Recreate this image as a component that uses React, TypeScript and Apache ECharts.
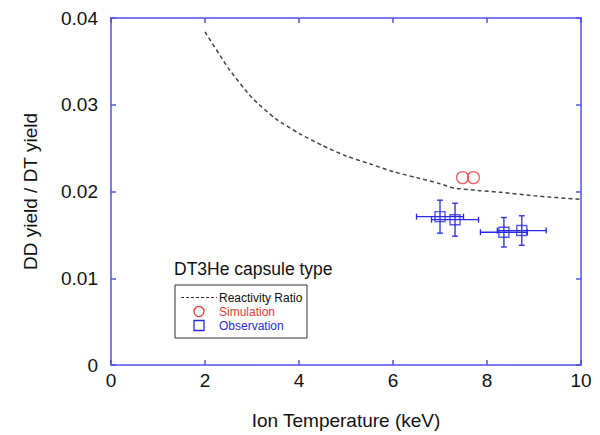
import React, { useEffect, useRef } from 'react';
import * as echarts from 'echarts';

// Reactivity ratio curve (dashed)
const curveX = [2.0, 2.5, 3.0, 3.5, 4.0, 4.5, 5.0, 5.5, 6.0, 6.5, 7.0, 7.3, 7.85, 8.3, 9.0, 10.0];
const curveY = [0.0384, 0.0342, 0.0308, 0.0284, 0.0267, 0.0253, 0.0241, 0.0232, 0.0223, 0.0216, 0.0209, 0.0204, 0.0201, 0.0199, 0.0195, 0.0191];
// Simulation (red circles)
const simX = [7.48, 7.71];
const simY = [0.0216, 0.0216];
// Observation (blue squares with error bars)
const obsX = [7.0, 7.32, 8.36, 8.74];
const obsY = [0.0171, 0.01675, 0.0153, 0.0155];
const obsXErr = [0.5, 0.5, 0.5, 0.52];
const obsYErr = [0.0019, 0.0019, 0.0017, 0.0017];

const xTickLabels = ['0', '2', '4', '6', '8', '10'];
const yTickLabels = ['0', '0.01', '0.02', '0.03', '0.04'];

const AXIS_BLUE = '#5050ec';
const OBS_BLUE = '#2a2ae6';
const SIM_RED = '#e83a3a';
const FONT = 'Liberation Sans, Arial, sans-serif';
const NARROW = 'Liberation Sans Narrow, Arial Narrow, sans-serif';

export default function App() {
  const ref = useRef<HTMLDivElement>(null);
  useEffect(() => {
    if (!ref.current) return;
    const chart = echarts.init(ref.current, undefined, { renderer: 'svg' });
    const axisCommon = {
      type: 'value' as const,
      axisLine: { show: true, onZero: false, lineStyle: { color: AXIS_BLUE, width: 1.5 } },
      axisTick: { show: true, inside: true, length: 5, lineStyle: { color: AXIS_BLUE, width: 1.5 } },
      splitLine: { show: false },
    };
    const option: any = {
      animation: false,
      backgroundColor: '#ffffff',
      grid: { left: 111, right: 19, top: 18, bottom: 66 },
      xAxis: [
        {
          ...axisCommon,
          min: 0, max: 10, interval: 2,
          name: 'Ion Temperature (keV)',
          nameLocation: 'middle',
          nameGap: 46,
          nameTextStyle: { color: '#111', fontSize: 19, fontFamily: FONT },
          axisLabel: {
            color: '#111', fontSize: 19, fontFamily: FONT, margin: 6,
            formatter: (v: number) => xTickLabels[Math.round(v / 2)] ?? '',
          },
        },
        {
          ...axisCommon,
          position: 'top',
          min: 0, max: 10, interval: 2,
          axisLabel: { show: false },
        },
      ],
      yAxis: [
        {
          ...axisCommon,
          min: 0, max: 0.04, interval: 0.01,
          name: 'DD yield / DT yield',
          nameLocation: 'middle',
          nameGap: 71,
          nameTextStyle: { color: '#111', fontSize: 19, fontFamily: FONT },
          axisLabel: {
            color: '#111', fontSize: 19, fontFamily: FONT, margin: 13,
            formatter: (v: number) => yTickLabels[Math.round(v / 0.01)] ?? '',
          },
        },
        {
          ...axisCommon,
          position: 'right',
          min: 0, max: 0.04, interval: 0.01,
          axisLabel: { show: false },
        },
      ],
      series: [
        {
          name: 'Reactivity Ratio',
          type: 'line',
          data: curveX.map((x, i) => [x, curveY[i]]),
          showSymbol: false,
          symbol: 'none',
          smooth: 0.2,
          lineStyle: { color: '#444', width: 1.5, type: [4, 3] },
          z: 2,
        },
        {
          name: 'errors',
          type: 'custom',
          data: obsX.map((x, i) => [x, obsY[i], obsXErr[i], obsYErr[i]]),
          renderItem: (params: any, api: any) => {
            const x = api.value(0), y = api.value(1), ex = api.value(2), ey = api.value(3);
            const l = api.coord([x - ex, y]);
            const r = api.coord([x + ex, y]);
            const t = api.coord([x, y + ey]);
            const b = api.coord([x, y - ey]);
            const c = 3;
            const style = { stroke: OBS_BLUE, lineWidth: 1.3 };
            return {
              type: 'group',
              children: [
                { type: 'line', shape: { x1: l[0], y1: l[1], x2: r[0], y2: r[1] }, style },
                { type: 'line', shape: { x1: t[0], y1: t[1], x2: b[0], y2: b[1] }, style },
                { type: 'line', shape: { x1: l[0], y1: l[1] - c, x2: l[0], y2: l[1] + c }, style },
                { type: 'line', shape: { x1: r[0], y1: r[1] - c, x2: r[0], y2: r[1] + c }, style },
                { type: 'line', shape: { x1: t[0] - c, y1: t[1], x2: t[0] + c, y2: t[1] }, style },
                { type: 'line', shape: { x1: b[0] - c, y1: b[1], x2: b[0] + c, y2: b[1] }, style },
              ],
            };
          },
          z: 3,
        },
        {
          name: 'Observation',
          type: 'scatter',
          data: obsX.map((x, i) => [x, obsY[i]]),
          symbol: 'rect',
          symbolSize: 10,
          itemStyle: { color: 'rgba(255,255,255,0)', borderColor: OBS_BLUE, borderWidth: 1.4 },
          z: 4,
        },
        {
          name: 'Simulation',
          type: 'scatter',
          data: simX.map((x, i) => [x, simY[i]]),
          symbol: 'circle',
          symbolSize: 12,
          itemStyle: { color: 'rgba(255,255,255,0)', borderColor: SIM_RED, borderWidth: 1.3 },
          z: 4,
        },
      ],
      graphic: [
        {
          type: 'text', x: 174, y: 269,
          style: { text: 'DT3He capsule type', fill: '#111', fontSize: 17.5, fontFamily: FONT, verticalAlign: 'middle' },
        },
        {
          type: 'rect', shape: { x: 175, y: 285, width: 132, height: 53 },
          style: { fill: '#fff', stroke: '#333', lineWidth: 1 },
        },
        {
          type: 'line', shape: { x1: 181, y1: 297.5, x2: 217, y2: 297.5 },
          style: { stroke: '#333', lineWidth: 1.2, lineDash: [3, 2] },
        },
        {
          type: 'text', x: 219, y: 297.5,
          style: { text: 'Reactivity Ratio', fill: '#111', fontSize: 12, fontFamily: NARROW, verticalAlign: 'middle' },
        },
        {
          type: 'circle', shape: { cx: 199, cy: 311.5, r: 5 },
          style: { fill: 'none', stroke: SIM_RED, lineWidth: 1.3 },
        },
        {
          type: 'text', x: 219, y: 311.5,
          style: { text: 'Simulation', fill: SIM_RED, fontSize: 12, fontFamily: NARROW, verticalAlign: 'middle' },
        },
        {
          type: 'rect', shape: { x: 194, y: 320.5, width: 10, height: 10 },
          style: { fill: 'none', stroke: OBS_BLUE, lineWidth: 1.3 },
        },
        {
          type: 'text', x: 219, y: 325.5,
          style: { text: 'Observation', fill: OBS_BLUE, fontSize: 12, fontFamily: NARROW, verticalAlign: 'middle' },
        },
      ],
    };
    chart.setOption(option);
    return () => chart.dispose();
  }, []);
  return (
    <div
      ref={ref}
      style={{ position: 'absolute', left: 0, top: 0, width: 600, height: 435 }}
    />
  );
}
